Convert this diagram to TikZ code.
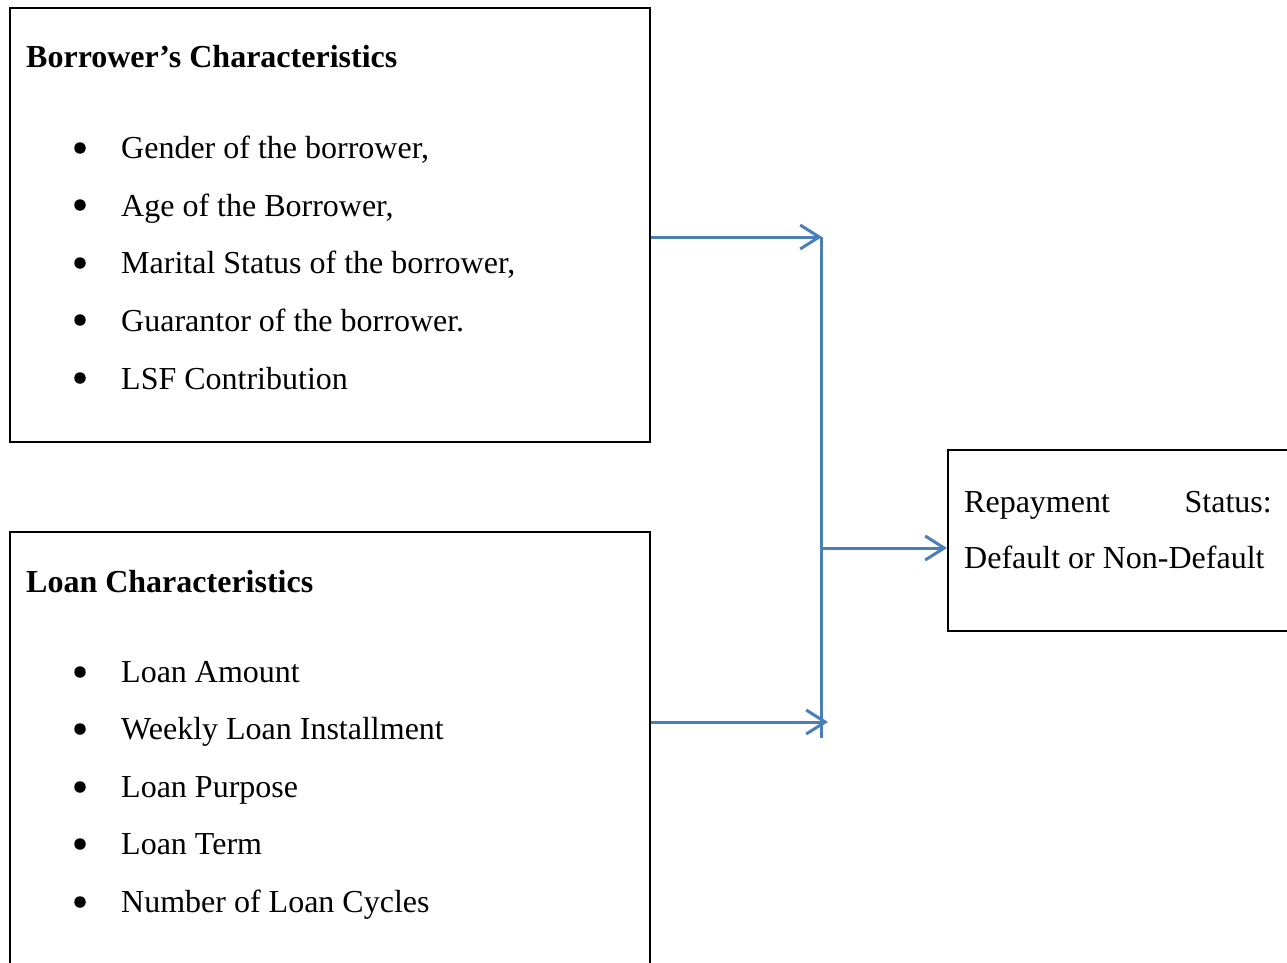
\documentclass[tikz,border=0pt]{standalone}
\usepackage{fontspec}
\setmainfont{Liberation Serif}
\usetikzlibrary{arrows.meta}
\definecolor{conn}{HTML}{4A7EBB}
\tikzset{
  box/.style={draw=black, line width=2pt, rectangle, anchor=north west, inner sep=0pt},
  txt/.style={anchor=base west, inner sep=0pt, font=\fontsize{32}{38}\selectfont},
  ttl/.style={anchor=base west, inner sep=0pt, font=\fontsize{32}{38}\selectfont\bfseries},
  bul/.style={circle, fill=black, inner sep=0pt, minimum size=11.5pt},
  conline/.style={draw=conn, line width=3pt},
  arr/.style={conline, -{Straight Barb[length=19pt, width=24pt, line width=3pt]}}
}
\begin{document}
\begin{tikzpicture}[x=1pt, y=-1pt]
\useasboundingbox (0,0) rectangle (1287,963);
% boxes
\node[box, minimum width=640pt, minimum height=434pt] (b1) at (9,7) {};
\node[box, minimum width=640pt, minimum height=460pt] (b2) at (9,531) {};
\node[box, minimum width=360pt, minimum height=181pt] (b3) at (947,449) {};
% box 1 text
\node[ttl] (t1) at (26,68) {Borrower’s Characteristics};
\node[bul] (p11) at (80,148) {};
\node[bul] (p12) at (80,205) {};
\node[bul] (p13) at (80,263) {};
\node[bul] (p14) at (80,320) {};
\node[bul] (p15) at (80,378) {};
\node[txt] (i11) at (121,158) {Gender of the borrower,};
\node[txt] (i12) at (121,216) {Age of the Borrower,};
\node[txt] (i13) at (121,273) {Marital Status of the borrower,};
\node[txt] (i14) at (121,331) {Guarantor of the borrower.};
\node[txt] (i15) at (121,389) {LSF Contribution};
% box 2 text
\node[ttl] (t2) at (26,592) {Loan Characteristics};
\node[bul] (p21) at (80,672) {};
\node[bul] (p22) at (80,729) {};
\node[bul] (p23) at (80,787) {};
\node[bul] (p24) at (80,844) {};
\node[bul] (p25) at (80,902) {};
\node[txt] (i21) at (121,682) {Loan Amount};
\node[txt] (i22) at (121,739) {Weekly Loan Installment};
\node[txt] (i23) at (121,797) {Loan Purpose};
\node[txt] (i24) at (121,854) {Loan Term};
\node[txt] (i25) at (121,912) {Number of Loan Cycles};
% box 3 text
\node[txt] (r1) at (964,512) {Repayment};
\node[txt, anchor=base east] (r2) at (1272,512) {Status:};
\node[txt] (r3) at (964,568) {Default or Non-Default};
% connectors
\coordinate (a1) at (822,237);
\coordinate (a2) at (828,722);
\coordinate (vtop) at (821,237);
\coordinate (vbot) at (821,738);
\coordinate (vmid) at (821,548);
\draw[arr] (b1.east |- a1) -- (a1);
\draw[arr] (b2.east |- a2) -- (a2);
\draw[conline] (vtop) -- (vbot);
\draw[arr] (vmid) -- (b3.west |- vmid);
\end{tikzpicture}
\end{document}
